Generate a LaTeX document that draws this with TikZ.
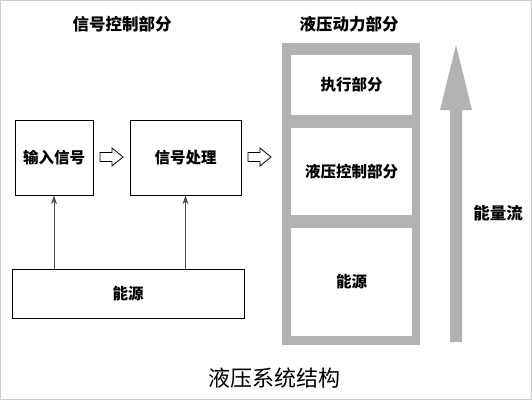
\documentclass[tikz,border=0pt]{standalone}
\usepackage{fontspec}
\newfontfamily\cjk{Noto Sans CJK SC}
\usetikzlibrary{positioning,arrows.meta}

\begin{document}
\begin{tikzpicture}[x=1pt,y=-1pt,
    box/.style={draw,thick,rectangle,inner sep=0pt,font=\cjk\bfseries\fontsize{15.5}{18}\selectfont},
    part/.style={rectangle,fill=white,inner sep=0pt,font=\cjk\bfseries\fontsize{15.5}{18}\selectfont},
    head/.style={font=\cjk\bfseries\fontsize{16.5}{19}\selectfont},
    feed/.style={draw=black!70,thick,-{Stealth[length=9pt,width=6pt]}}]
    \useasboundingbox (0,0) rectangle (532,400);
    \draw[black!20] (0.5,0.5) rectangle (531.5,399.5);

    % signal control part
    \node (sigtitle) [head] at (122,24) {信号控制部分};
    \node (input) [box,minimum width=78pt,minimum height=75pt] at (54,157.5) {输入信号};
    \node (proc) [box,minimum width=111pt,minimum height=75pt] at (185.5,157.5) {信号处理};
    \node (energy) [box,minimum width=232pt,minimum height=49pt] at (128,293.5) {能源};
    \foreach \x in {100,248}
        \draw[thick,line join=miter] (\x,152.5) -- ++(12,0) -- ++(0,-4.5) -- ++(11,9)
            -- ++(-11,9) -- ++(0,-4.5) -- ++(-12,0) -- cycle;
    \draw[feed] (input.south |- energy.north) -- (input.south);
    \draw[feed] (proc.south |- energy.north) -- (proc.south);

    % hydraulic power part
    \node (hydtitle) [head] at (349,24) {液压动力部分};
    \fill[black!30] (282,43) rectangle (420,345);
    \node (exec) [part,minimum width=121pt,minimum height=60pt] at (351.5,85) {执行部分};
    \node (hctrl) [part,minimum width=121pt,minimum height=87pt] at (351.5,171.5) {液压控制部分};
    \node (power) [part,minimum width=121pt,minimum height=108pt] at (351.5,282) {能源};

    % energy flow
    \fill[black!30] (450,342) -- (450,110) -- (440,110) -- (456,45) -- (472,110)
        -- (462,110) -- (462,342) -- cycle;
    \node (flow) [head] at (498,213) {能量流};

    \node (caption) [font=\cjk\fontsize{22}{26}\selectfont] at (274,378) {液压系统结构};
\end{tikzpicture}
\end{document}
